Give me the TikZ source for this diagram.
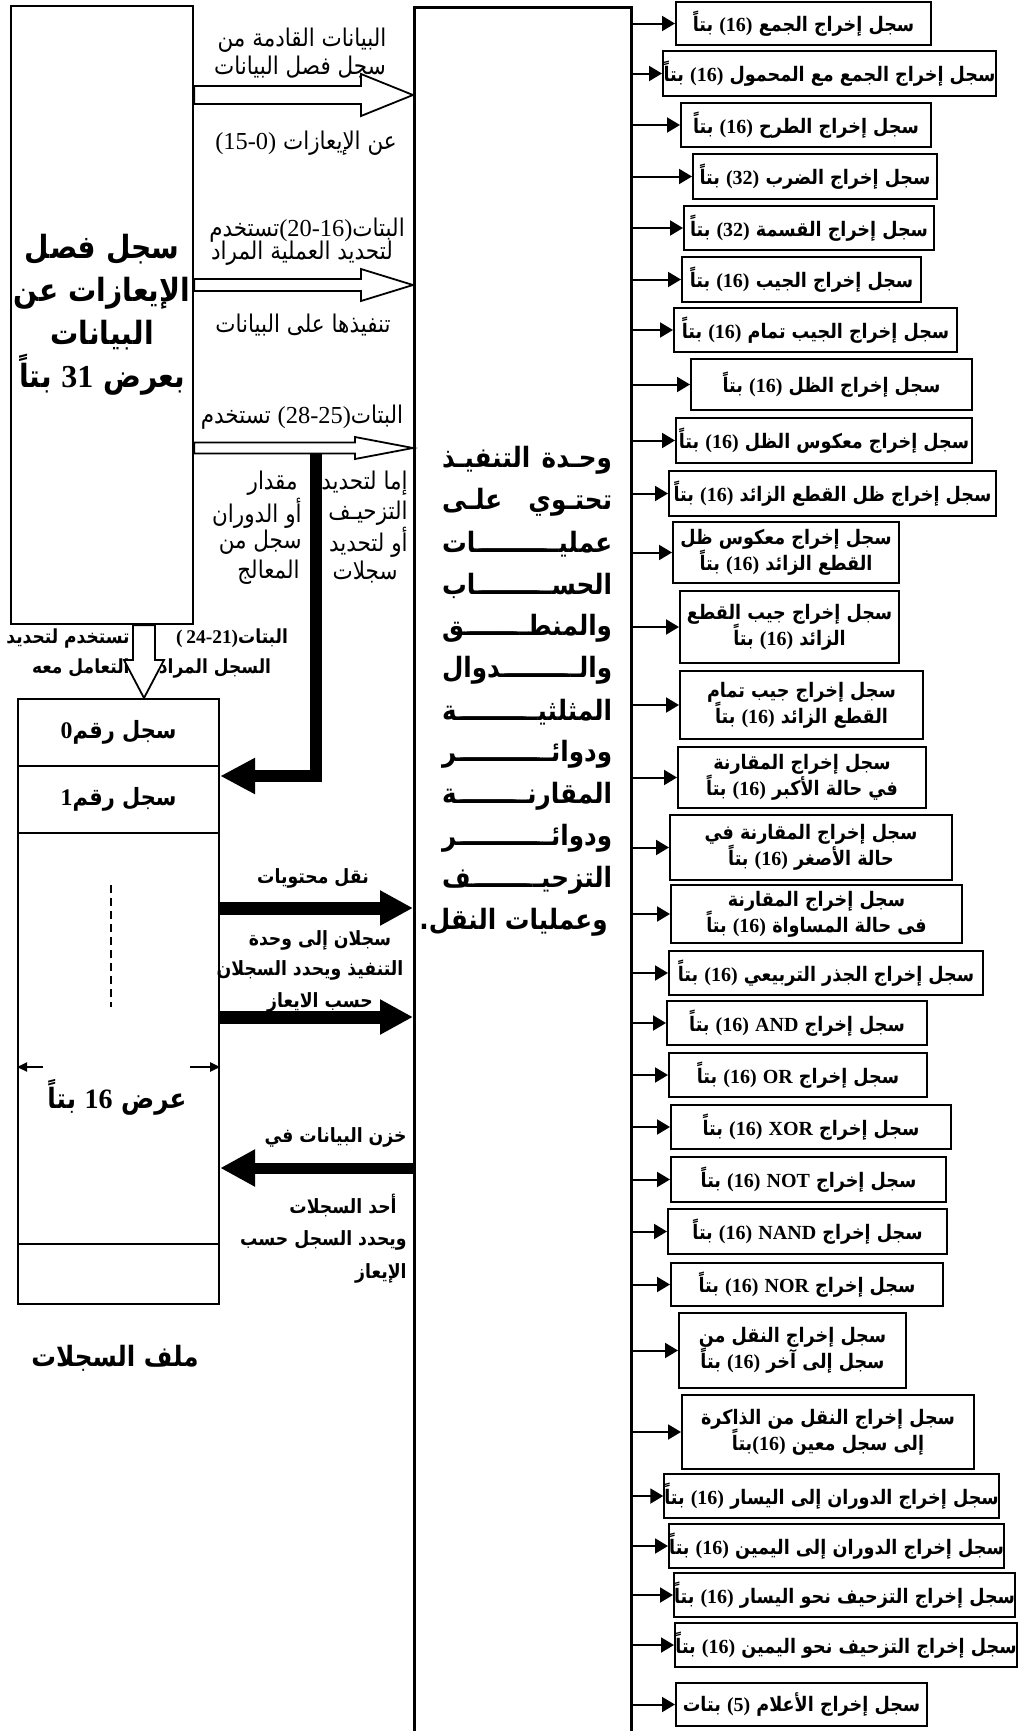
\documentclass[tikz,border=0pt]{standalone}
\usepackage{fontspec}
\setmainfont{DejaVu Sans}[Script=Arabic, FakeStretch=0.88]
\newfontfamily\numf{Liberation Serif}[Script=Latin, HyphenChar=None]
\usetikzlibrary{arrows.meta,calc}
\TeXXeTstate=1
\newcommand\AR[1]{\beginR#1\endR}
\newcommand\NUM[1]{\beginL{\numf#1}\endL{}}
\newcommand\GL[1]{\XeTeXglyph\XeTeXcharglyph"#1\relax}
\newcommand\HN[2]{\hbox{\numf\GL{0028}#1\GL{002D}#2\GL{0029}}}
\newcommand\KF{\xleaders\hbox{\rlap{ـ}\kern0.1em}\hfill}
\newcommand\JL[1]{\hbox to 85pt{\beginR#1\endR}}
\newcommand\rbf{\fontsize{10}{13}\selectfont\bfseries}
\newcommand\plainf{\fontsize{12.2}{13.5}\selectfont}
\newcommand\midbf{\fontsize{9.8}{12}\selectfont\bfseries}
\newcommand\smbf{\fontsize{9.7}{12}\selectfont\bfseries}
\newcommand\bigbf{\fontsize{16}{21.5}\selectfont\bfseries}
\newcommand\bwf{\fontsize{14}{16}\selectfont\bfseries}
\newcommand\regbf{\fontsize{11.9}{13}\selectfont\bfseries}
\newcommand\ctrbf{\fontsize{14}{15}\selectfont\bfseries}
\newcommand\outbox[6]{%
  \node[obox={#3-#2}{#5-#4}] (#1) at ({(#2+#3)/2},{(#4+#5)/2}) {#6};
  \draw[outarr] (#1.west -| bus) -- (#1.west);}
\newcommand\hollowR[5]{%
  \draw[hollow] ($(#1)+(0,-#3)$) -- ($(#2)+(-#5,-#3)$) -- ($(#2)+(-#5,-#4)$) -- (#2)
   -- ($(#2)+(-#5,#4)$) -- ($(#2)+(-#5,#3)$) -- ($(#1)+(0,#3)$) -- cycle;}
\newcommand\hollowD[5]{%
  \draw[hollow] ($(#1)+(-#3,0)$) -- ($(#2)+(-#3,-#5)$) -- ($(#2)+(-#4,-#5)$) -- (#2)
   -- ($(#2)+(#4,-#5)$) -- ($(#2)+(#3,-#5)$) -- ($(#1)+(#3,0)$) -- cycle;}
\begin{document}
\begin{tikzpicture}[x=0.5pt,y=-0.5pt,
  frame/.style={draw, line width=1.1pt, inner sep=0pt},
  obox/.style 2 args={draw, line width=1pt, minimum width={(#1)*0.5pt}, minimum height={(#2)*0.5pt}, inner sep=0pt, align=center, font=\rbf},
  outarr/.style={line width=1pt, -{Triangle[length=6.5pt,width=7.5pt]}},
  hollow/.style={draw, line width=0.9pt, fill=white, line join=miter},
  blk/.style={line width=6pt, line join=miter, -{Triangle[length=17.5pt,width=17pt]}},
  blkR/.style={line width=6.5pt, -{Triangle[length=16.5pt,width=16.5pt]}},
  blkL/.style={line width=5.5pt, -{Triangle[length=17.5pt,width=17.5pt]}},
  warr/.style={line width=1pt, -{Triangle[length=5pt,width=4.5pt]}},
  pl/.style={font=\plainf, inner sep=0pt},
  mb/.style={font=\midbf, inner sep=0pt},
  sb/.style={font=\smbf, inner sep=0pt},
  bb/.style={font=\bwf, inner sep=0pt},
  ctr/.style={font=\ctrbf, inner sep=0pt}]
\useasboundingbox (0,0) rectangle (1018,1731);
\fill[white] (0,0) rectangle (1018,1731);
\coordinate (bus) at (630,0);

% main boxes
\node[frame, minimum width=91pt, minimum height=309pt, anchor=north west, align=center, font=\bigbf] (sep) at (10,5)
  {\AR{سجل فصل}\\\AR{الإيعازات عن}\\\AR{البيانات}\\\AR{بعرض \NUM{31} بتاً}};
\node[frame, line width=1.3pt, minimum width=108.5pt, minimum height=880pt, anchor=north west] (exec) at (413,6) {};

% register file
\node[frame, minimum width=100.5pt, minimum height=33.5pt, anchor=north west, font=\regbf] (r0) at (17,698) {\AR{سجل رقم\NUM{0}}};
\node[frame, minimum width=100.5pt, minimum height=33.5pt, anchor=north west, font=\regbf] (r1) at (17,765) {\AR{سجل رقم\NUM{1}}};
\node[frame, minimum width=100.5pt, minimum height=205.5pt, anchor=north west] (rm) at (17,832) {};
\node[frame, minimum width=100.5pt, minimum height=30pt, anchor=north west] (rl) at (17,1243) {};

% execution unit text
\node[ctr] (e1) at (527,460) {\JL{وحـدة\hfill التنفيـذ}};
\node[ctr] (e2) at (527,502) {\JL{تحتـوي\hfill علـى}};
\node[ctr] (e3) at (527,544) {\JL{عمليـ\KF ـات}};
\node[ctr] (e4) at (527,586) {\JL{الحسـ\KF ـاب}};
\node[ctr] (e5) at (527,628) {\JL{والمنطـ\KF ـق}};
\node[ctr] (e6) at (527,670) {\JL{والـ\KF ـدوال}};
\node[ctr] (e7) at (527,712) {\JL{المثلثيـ\KF ـة}};
\node[ctr] (e8) at (527,754) {\JL{ودوائـ\KF ـر}};
\node[ctr] (e9) at (527,796) {\JL{المقارنـ\KF ـة}};
\node[ctr] (e10) at (527,838) {\JL{ودوائـ\KF ـر}};
\node[ctr] (e11) at (527,880) {\JL{التزحيـ\KF ـف}};
\node[ctr, anchor=east] (e12) at (608,922) {\AR{وعمليات النقل.}};

% labels near top arrows
\node[pl] (ta1) at (302,40) {\AR{البيانات القادمة من}};
\node[pl] (ta2) at (300,67) {\AR{سجل فصل البيانات}};
\node[pl] (ta3) at (306,143) {\HN{15}{0}\ \AR{عن الإيعازات}};
\node[pl] (tb1) at (307,230) {\AR{تستخدم}\HN{20}{16}\AR{البتات}};
\node[pl] (tb2) at (302,253) {\AR{لتحديد العملية المراد}};
\node[pl] (tb3) at (303,325) {\AR{تنفيذها على البيانات}};
\node[pl] (tc1) at (302,417) {\AR{تستخدم}\ \HN{28}{25}\AR{البتات}};
\node[pl, anchor=east] (tr1) at (408,483) {\AR{إما لتحديد}};
\node[pl, anchor=east] (tr2) at (408,513) {\AR{التزحيـف}};
\node[pl, anchor=east] (tr3) at (408,542) {\AR{أو لتحديد}};
\node[pl, anchor=east] (tr4) at (398,572) {\AR{سجلات}};
\node[pl, anchor=east] (tl1) at (298,483) {\AR{مقدار}};
\node[pl, anchor=east] (tl2) at (302,513) {\AR{أو الدوران}};
\node[pl, anchor=east] (tl3) at (302,542) {\AR{سجل من}};
\node[pl, anchor=east] (tl4) at (300,572) {\AR{المعالج}};
\node[sb] (td1) at (232,638) {\HN{\kern2pt 24}{21}\AR{البتات}};
\node[sb] (td2) at (215,668) {\AR{السجل المراد}};
\node[sb, anchor=east] (te1) at (130,638) {\AR{تستخدم لتحديد}};
\node[sb, anchor=east] (te2) at (130,668) {\AR{التعامل معه}};

% register-file area labels
\node[bb] (tw) at (117,1097) {\AR{عرض \NUM{16} بتاً}};
\node[bb] (tf) at (115,1358) {\AR{ملف السجلات}};
\node[mb] (tm1) at (313,878) {\AR{نقل محتويات}};
\node[mb] (tm2) at (320,940) {\AR{سجلان إلى وحدة}};
\node[mb] (tm3) at (310,970) {\AR{التنفيذ ويحدد السجلان}};
\node[mb] (tm4) at (320,1002) {\AR{حسب الايعاز}};
\node[mb, anchor=east] (ts1) at (407,1137) {\AR{خزن البيانات في}};
\node[mb, anchor=east] (ts2) at (397,1205) {\AR{أحد السجلات}};
\node[mb, anchor=east] (ts3) at (407,1240) {\AR{ويحدد السجل حسب}};
\node[mb, anchor=east] (ts4) at (407,1273) {\AR{الإيعاز}};

% hollow arrows
\coordinate (y1) at (0,95);
\coordinate (y2) at (0,285);
\coordinate (y3) at (0,448);
\coordinate (A1) at (sep.east |- y1); \coordinate (B1) at (exec.west |- y1);
\coordinate (A2) at (sep.east |- y2); \coordinate (B2) at (exec.west |- y2);
\coordinate (A3) at (sep.east |- y3); \coordinate (B3) at (exec.west |- y3);
\hollowR{A1}{B1}{9}{21}{52}
\hollowR{A2}{B2}{6}{16}{52}
\hollowR{A3}{B3}{5.5}{11}{58}
\coordinate (dx) at (144,0);
\coordinate (DA) at (sep.south -| dx);
\coordinate (DB) at (r0.north -| dx);
\hollowD{DA}{DB}{11}{20}{38}

% black arrows
\coordinate (bar) at (316,453);
\coordinate (y4) at (0,776);
\draw[blk] (bar) |- (r1.east |- y4);
\coordinate (y5) at (0,908);
\coordinate (y6) at (0,1017);
\coordinate (y7) at (0,1168);
\draw[blkR] (rm.east |- y5) -- (exec.west |- y5);
\draw[blkR] (rm.east |- y6) -- (exec.west |- y6);
\draw[blkL] (exec.west |- y7) -- (rm.east |- y7);

% inside register file
\coordinate (d1) at (111,885);
\coordinate (d2) at (111,1007);
\draw[line width=1pt, dash pattern=on 4pt off 2.5pt] (d1) -- (d2);
\coordinate (wl) at (43,1067);
\coordinate (wr) at (190,1067);
\draw[warr] (wl) -- (rm.west |- wl);
\draw[warr] (wr) -- (rm.east |- wr);

% output registers
\outbox{o1}{676}{931}{2}{45}{\AR{سجل إخراج الجمع \NUM{(16)} بتاً}}
\outbox{o2}{663}{996}{51}{96}{\AR{سجل إخراج الجمع مع المحمول \NUM{(16)} بتاً}}
\outbox{o3}{681}{931}{103}{147}{\AR{سجل إخراج الطرح \NUM{(16)} بتاً}}
\outbox{o4}{693}{937}{154}{199}{\AR{سجل إخراج الضرب \NUM{(32)} بتاً}}
\outbox{o5}{684}{934}{206}{250}{\AR{سجل إخراج القسمة \NUM{(32)} بتاً}}
\outbox{o6}{682}{921}{257}{302}{\AR{سجل إخراج الجيب \NUM{(16)} بتاً}}
\outbox{o7}{674}{957}{308}{352}{\AR{سجل إخراج الجيب تمام \NUM{(16)} بتاً}}
\outbox{o8}{691}{972}{359}{410}{\AR{سجل إخراج الظل \NUM{(16)} بتاً}}
\outbox{o9}{676}{972}{418}{463}{\AR{سجل إخراج معكوس الظل \NUM{(16)} بتاً}}
\outbox{o10}{669}{996}{471}{516}{\AR{سجل إخراج ظل القطع الزائد \NUM{(16)} بتاً}}
\outbox{o11}{673}{899}{522}{583}{\AR{سجل إخراج معكوس ظل}\\\AR{القطع الزائد \NUM{(16)} بتاً}}
\outbox{o12}{680}{899}{591}{663}{\AR{سجل إخراج جيب القطع}\\\AR{الزائد \NUM{(16)} بتاً}}
\outbox{o13}{680}{923}{671}{739}{\AR{سجل إخراج جيب تمام}\\\AR{القطع الزائد \NUM{(16)} بتاً}}
\outbox{o14}{678}{926}{747}{808}{\AR{سجل إخراج المقارنة}\\\AR{في حالة الأكبر \NUM{(16)} بتاً}}
\outbox{o15}{670}{952}{815}{880}{\AR{سجل إخراج المقارنة في}\\\AR{حالة الأصغر \NUM{(16)} بتاً}}
\outbox{o16}{671}{962}{885}{943}{\AR{سجل إخراج المقارنة}\\\AR{فى حالة المساواة \NUM{(16)} بتاً}}
\outbox{o17}{669}{983}{951}{995}{\AR{سجل إخراج الجذر التربيعي \NUM{(16)} بتاً}}
\outbox{o18}{667}{927}{1001}{1045}{\AR{سجل إخراج \NUM{AND} \NUM{(16)} بتاً}}
\outbox{o19}{669}{927}{1053}{1097}{\AR{سجل إخراج \NUM{OR} \NUM{(16)} بتاً}}
\outbox{o20}{671}{951}{1105}{1149}{\AR{سجل إخراج \NUM{XOR} \NUM{(16)} بتاً}}
\outbox{o21}{671}{946}{1157}{1202}{\AR{سجل إخراج \NUM{NOT} \NUM{(16)} بتاً}}
\outbox{o22}{668}{947}{1209}{1254}{\AR{سجل إخراج \NUM{NAND} \NUM{(16)} بتاً}}
\outbox{o23}{671}{943}{1263}{1306}{\AR{سجل إخراج \NUM{NOR} \NUM{(16)} بتاً}}
\outbox{o24}{679}{906}{1313}{1388}{\AR{سجل إخراج النقل من}\\\AR{سجل إلى آخر \NUM{(16)} بتاً}}
\outbox{o25}{682}{974}{1395}{1469}{\AR{سجل إخراج النقل من الذاكرة}\\\AR{إلى سجل معين \NUM{(16)}بتاً}}
\outbox{o26}{665}{998}{1474}{1518}{\AR{سجل إخراج الدوران إلى اليسار \NUM{(16)} بتاً}}
\outbox{o27}{669}{1004}{1524}{1568}{\AR{سجل إخراج الدوران إلى اليمين \NUM{(16)} بتاً}}
\outbox{o28}{674}{1015}{1573}{1617}{\AR{سجل إخراج التزحيف نحو اليسار \NUM{(16)} بتاً}}
\outbox{o29}{675}{1017}{1623}{1667}{\AR{سجل إخراج التزحيف نحو اليمين \NUM{(16)} بتاً}}
\outbox{o30}{676}{927}{1683}{1726}{\AR{سجل إخراج الأعلام \NUM{(5)} بتات}}
\end{tikzpicture}
\end{document}
